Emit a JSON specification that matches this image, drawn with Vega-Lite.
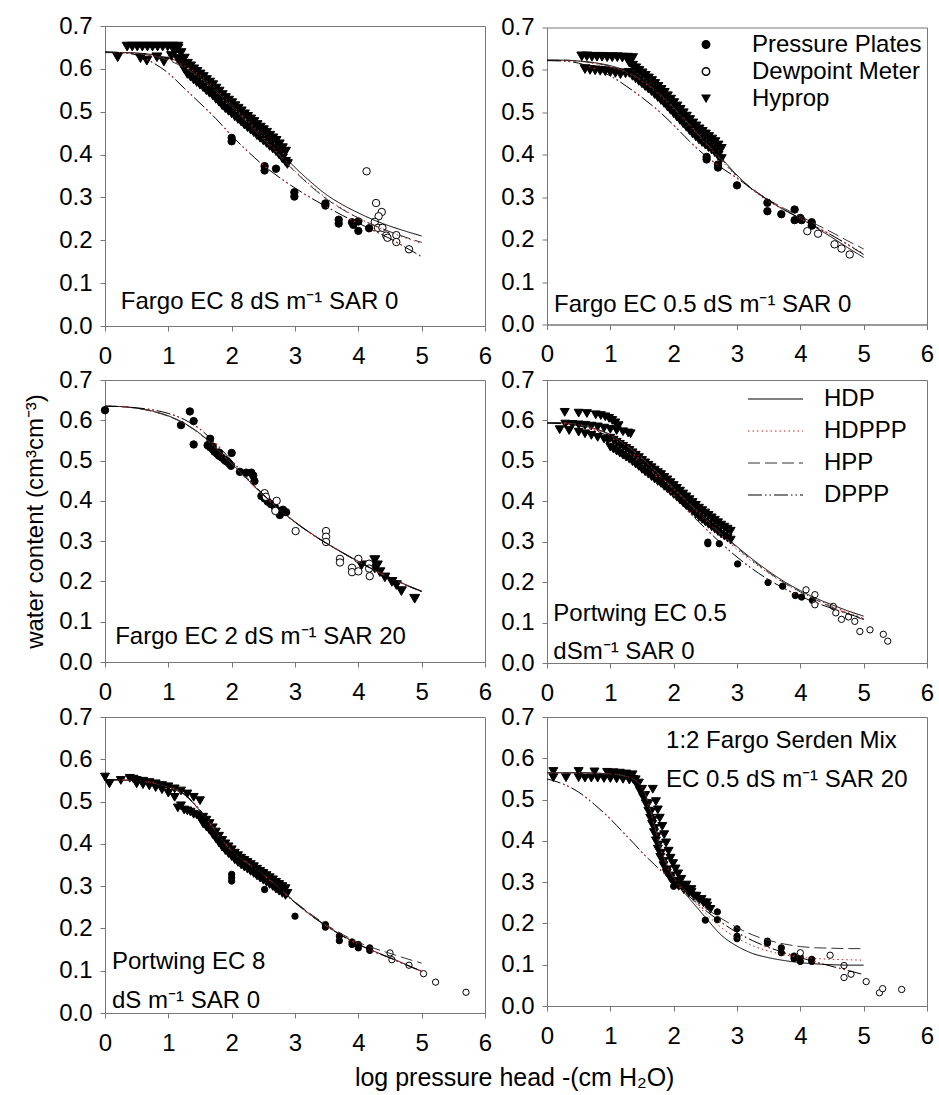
{
"$schema": "https://vega.github.io/schema/vega-lite/v6.json",
"padding": {"left": 23, "top": 13, "right": 5, "bottom": 5},
"background": "white",
"title": {"text": "log pressure head -(cm H₂O)", "orient": "bottom", "anchor": "middle", "fontSize": 25, "fontWeight": "normal", "color": "black", "offset": 10, "dx": 36},
"datasets": {
"notes": [
{"p":1,"t":"Fargo EC 8 dS m⁻¹ SAR 0"},
{"p":2,"t":"Fargo EC 0.5 dS m⁻¹ SAR 0"},
{"p":3,"t":"Fargo EC 2 dS m⁻¹ SAR 20"},
{"p":4,"t":"Portwing EC 0.5|dSm⁻¹ SAR 0"},
{"p":5,"t":"Portwing EC 8|dS m⁻¹ SAR 0"},
{"p":6,"t":"1:2 Fargo Serden Mix|EC 0.5 dS m⁻¹ SAR 20"}
],
"fit1": [
{"x":0,"HDP":0.638,"HDPPP":0.638,"HPP":0.638,"DPPP":0.64},
{"x":0.25,"HDP":0.638,"HDPPP":0.638,"HPP":0.638,"DPPP":0.638},
{"x":0.5,"HDP":0.637,"HDPPP":0.636,"HPP":0.636,"DPPP":0.632},
{"x":0.75,"HDP":0.633,"HDPPP":0.631,"HPP":0.63,"DPPP":0.615},
{"x":1,"HDP":0.625,"HDPPP":0.622,"HPP":0.62,"DPPP":0.59},
{"x":1.25,"HDP":0.612,"HDPPP":0.607,"HPP":0.603,"DPPP":0.555},
{"x":1.5,"HDP":0.59,"HDPPP":0.585,"HPP":0.58,"DPPP":0.52},
{"x":1.75,"HDP":0.558,"HDPPP":0.553,"HPP":0.548,"DPPP":0.484},
{"x":2,"HDP":0.522,"HDPPP":0.517,"HPP":0.512,"DPPP":0.444},
{"x":2.25,"HDP":0.484,"HDPPP":0.479,"HPP":0.474,"DPPP":0.408},
{"x":2.5,"HDP":0.446,"HDPPP":0.44,"HPP":0.436,"DPPP":0.375},
{"x":2.75,"HDP":0.408,"HDPPP":0.401,"HPP":0.398,"DPPP":0.347},
{"x":3,"HDP":0.37,"HDPPP":0.362,"HPP":0.36,"DPPP":0.322},
{"x":3.25,"HDP":0.336,"HDPPP":0.328,"HPP":0.326,"DPPP":0.299},
{"x":3.5,"HDP":0.306,"HDPPP":0.298,"HPP":0.296,"DPPP":0.278},
{"x":3.75,"HDP":0.283,"HDPPP":0.273,"HPP":0.272,"DPPP":0.258},
{"x":4,"HDP":0.264,"HDPPP":0.252,"HPP":0.252,"DPPP":0.24},
{"x":4.25,"HDP":0.247,"HDPPP":0.234,"HPP":0.235,"DPPP":0.222},
{"x":4.5,"HDP":0.233,"HDPPP":0.219,"HPP":0.22,"DPPP":0.204},
{"x":4.75,"HDP":0.221,"HDPPP":0.205,"HPP":0.207,"DPPP":0.183},
{"x":5,"HDP":0.21,"HDPPP":0.193,"HPP":0.195,"DPPP":0.162}
],
"fit2": [
{"x":0,"HDP":0.623,"HDPPP":0.623,"HPP":0.623,"DPPP":0.622},
{"x":0.25,"HDP":0.623,"HDPPP":0.622,"HPP":0.623,"DPPP":0.621},
{"x":0.5,"HDP":0.621,"HDPPP":0.62,"HPP":0.621,"DPPP":0.616},
{"x":0.75,"HDP":0.617,"HDPPP":0.615,"HPP":0.616,"DPPP":0.603},
{"x":1,"HDP":0.61,"HDPPP":0.607,"HPP":0.609,"DPPP":0.586},
{"x":1.25,"HDP":0.598,"HDPPP":0.594,"HPP":0.596,"DPPP":0.562},
{"x":1.5,"HDP":0.578,"HDPPP":0.573,"HPP":0.576,"DPPP":0.535},
{"x":1.75,"HDP":0.55,"HDPPP":0.544,"HPP":0.547,"DPPP":0.505},
{"x":2,"HDP":0.515,"HDPPP":0.508,"HPP":0.511,"DPPP":0.47},
{"x":2.25,"HDP":0.475,"HDPPP":0.468,"HPP":0.471,"DPPP":0.432},
{"x":2.5,"HDP":0.434,"HDPPP":0.427,"HPP":0.43,"DPPP":0.398},
{"x":2.75,"HDP":0.393,"HDPPP":0.387,"HPP":0.39,"DPPP":0.37},
{"x":3,"HDP":0.352,"HDPPP":0.348,"HPP":0.35,"DPPP":0.345},
{"x":3.25,"HDP":0.318,"HDPPP":0.316,"HPP":0.319,"DPPP":0.318},
{"x":3.5,"HDP":0.292,"HDPPP":0.29,"HPP":0.294,"DPPP":0.293},
{"x":3.75,"HDP":0.27,"HDPPP":0.269,"HPP":0.273,"DPPP":0.27},
{"x":4,"HDP":0.25,"HDPPP":0.25,"HPP":0.255,"DPPP":0.25},
{"x":4.25,"HDP":0.228,"HDPPP":0.23,"HPP":0.236,"DPPP":0.23},
{"x":4.5,"HDP":0.205,"HDPPP":0.21,"HPP":0.217,"DPPP":0.21},
{"x":4.75,"HDP":0.181,"HDPPP":0.189,"HPP":0.197,"DPPP":0.188},
{"x":5,"HDP":0.158,"HDPPP":0.167,"HPP":0.178,"DPPP":0.165}
],
"fit3": [
{"x":0,"HDP":0.635,"HDPPP":0.635,"HPP":0.635,"DPPP":0.635},
{"x":0.25,"HDP":0.634,"HDPPP":0.634,"HPP":0.634,"DPPP":0.634},
{"x":0.5,"HDP":0.63,"HDPPP":0.63,"HPP":0.63,"DPPP":0.631},
{"x":0.75,"HDP":0.623,"HDPPP":0.622,"HPP":0.622,"DPPP":0.626},
{"x":1,"HDP":0.611,"HDPPP":0.61,"HPP":0.61,"DPPP":0.617},
{"x":1.25,"HDP":0.593,"HDPPP":0.592,"HPP":0.592,"DPPP":0.602},
{"x":1.5,"HDP":0.567,"HDPPP":0.566,"HPP":0.566,"DPPP":0.578},
{"x":1.75,"HDP":0.532,"HDPPP":0.531,"HPP":0.531,"DPPP":0.542},
{"x":2,"HDP":0.493,"HDPPP":0.492,"HPP":0.492,"DPPP":0.5},
{"x":2.25,"HDP":0.453,"HDPPP":0.452,"HPP":0.452,"DPPP":0.456},
{"x":2.5,"HDP":0.415,"HDPPP":0.414,"HPP":0.414,"DPPP":0.416},
{"x":2.75,"HDP":0.38,"HDPPP":0.379,"HPP":0.379,"DPPP":0.38},
{"x":3,"HDP":0.348,"HDPPP":0.347,"HPP":0.347,"DPPP":0.347},
{"x":3.25,"HDP":0.32,"HDPPP":0.319,"HPP":0.319,"DPPP":0.319},
{"x":3.5,"HDP":0.295,"HDPPP":0.294,"HPP":0.294,"DPPP":0.294},
{"x":3.75,"HDP":0.272,"HDPPP":0.271,"HPP":0.271,"DPPP":0.271},
{"x":4,"HDP":0.25,"HDPPP":0.249,"HPP":0.249,"DPPP":0.249},
{"x":4.25,"HDP":0.229,"HDPPP":0.228,"HPP":0.228,"DPPP":0.228},
{"x":4.5,"HDP":0.21,"HDPPP":0.209,"HPP":0.209,"DPPP":0.209},
{"x":4.75,"HDP":0.192,"HDPPP":0.191,"HPP":0.191,"DPPP":0.191},
{"x":5,"HDP":0.176,"HDPPP":0.174,"HPP":0.175,"DPPP":0.175}
],
"fit4": [
{"x":0,"HDP":0.595,"HDPPP":0.595,"HPP":0.595,"DPPP":0.593},
{"x":0.25,"HDP":0.594,"HDPPP":0.594,"HPP":0.594,"DPPP":0.592},
{"x":0.5,"HDP":0.59,"HDPPP":0.589,"HPP":0.59,"DPPP":0.587},
{"x":0.75,"HDP":0.58,"HDPPP":0.579,"HPP":0.58,"DPPP":0.576},
{"x":1,"HDP":0.565,"HDPPP":0.563,"HPP":0.564,"DPPP":0.558},
{"x":1.25,"HDP":0.54,"HDPPP":0.538,"HPP":0.539,"DPPP":0.532},
{"x":1.5,"HDP":0.508,"HDPPP":0.505,"HPP":0.507,"DPPP":0.498},
{"x":1.75,"HDP":0.472,"HDPPP":0.468,"HPP":0.47,"DPPP":0.458},
{"x":2,"HDP":0.435,"HDPPP":0.43,"HPP":0.433,"DPPP":0.415},
{"x":2.25,"HDP":0.397,"HDPPP":0.391,"HPP":0.394,"DPPP":0.372},
{"x":2.5,"HDP":0.36,"HDPPP":0.353,"HPP":0.357,"DPPP":0.333},
{"x":2.75,"HDP":0.323,"HDPPP":0.316,"HPP":0.32,"DPPP":0.296},
{"x":3,"HDP":0.288,"HDPPP":0.281,"HPP":0.285,"DPPP":0.262},
{"x":3.25,"HDP":0.256,"HDPPP":0.25,"HPP":0.253,"DPPP":0.232},
{"x":3.5,"HDP":0.227,"HDPPP":0.222,"HPP":0.224,"DPPP":0.206},
{"x":3.75,"HDP":0.201,"HDPPP":0.197,"HPP":0.198,"DPPP":0.184},
{"x":4,"HDP":0.179,"HDPPP":0.176,"HPP":0.176,"DPPP":0.165},
{"x":4.25,"HDP":0.16,"HDPPP":0.157,"HPP":0.156,"DPPP":0.149},
{"x":4.5,"HDP":0.144,"HDPPP":0.141,"HPP":0.138,"DPPP":0.135},
{"x":4.75,"HDP":0.129,"HDPPP":0.125,"HPP":0.122,"DPPP":0.122},
{"x":5,"HDP":0.116,"HDPPP":0.111,"HPP":0.107,"DPPP":0.109}
],
"fit5": [
{"x":0,"HDP":0.552,"HDPPP":0.552,"HPP":0.552,"DPPP":0.552},
{"x":0.25,"HDP":0.551,"HDPPP":0.551,"HPP":0.551,"DPPP":0.551},
{"x":0.5,"HDP":0.549,"HDPPP":0.549,"HPP":0.549,"DPPP":0.549},
{"x":0.75,"HDP":0.544,"HDPPP":0.544,"HPP":0.544,"DPPP":0.545},
{"x":1,"HDP":0.535,"HDPPP":0.535,"HPP":0.534,"DPPP":0.536},
{"x":1.25,"HDP":0.517,"HDPPP":0.516,"HPP":0.516,"DPPP":0.518},
{"x":1.5,"HDP":0.478,"HDPPP":0.478,"HPP":0.479,"DPPP":0.48},
{"x":1.75,"HDP":0.428,"HDPPP":0.429,"HPP":0.43,"DPPP":0.43},
{"x":2,"HDP":0.383,"HDPPP":0.383,"HPP":0.384,"DPPP":0.384},
{"x":2.25,"HDP":0.355,"HDPPP":0.354,"HPP":0.355,"DPPP":0.355},
{"x":2.5,"HDP":0.328,"HDPPP":0.327,"HPP":0.328,"DPPP":0.327},
{"x":2.75,"HDP":0.295,"HDPPP":0.294,"HPP":0.296,"DPPP":0.294},
{"x":3,"HDP":0.262,"HDPPP":0.261,"HPP":0.263,"DPPP":0.261},
{"x":3.25,"HDP":0.232,"HDPPP":0.231,"HPP":0.234,"DPPP":0.231},
{"x":3.5,"HDP":0.206,"HDPPP":0.205,"HPP":0.208,"DPPP":0.205},
{"x":3.75,"HDP":0.183,"HDPPP":0.182,"HPP":0.186,"DPPP":0.182},
{"x":4,"HDP":0.163,"HDPPP":0.162,"HPP":0.167,"DPPP":0.162},
{"x":4.25,"HDP":0.146,"HDPPP":0.145,"HPP":0.153,"DPPP":0.145},
{"x":4.5,"HDP":0.131,"HDPPP":0.13,"HPP":0.141,"DPPP":0.13},
{"x":4.75,"HDP":0.115,"HDPPP":0.114,"HPP":0.129,"DPPP":0.114},
{"x":5,"HDP":0.099,"HDPPP":0.098,"HPP":0.118,"DPPP":0.098}
],
"fit6": [
{"x":0,"HDP":0.565,"HDPPP":0.565,"HPP":0.565,"DPPP":0.55},
{"x":0.25,"HDP":0.565,"HDPPP":0.565,"HPP":0.565,"DPPP":0.538},
{"x":0.5,"HDP":0.565,"HDPPP":0.565,"HPP":0.565,"DPPP":0.518},
{"x":0.75,"HDP":0.564,"HDPPP":0.564,"HPP":0.564,"DPPP":0.488},
{"x":1,"HDP":0.562,"HDPPP":0.562,"HPP":0.562,"DPPP":0.453},
{"x":1.2,"HDP":0.558,"HDPPP":0.558,"HPP":0.558,"DPPP":0.421},
{"x":1.4,"HDP":0.545,"HDPPP":0.546,"HPP":0.546,"DPPP":0.389},
{"x":1.5,"HDP":0.528,"HDPPP":0.53,"HPP":0.53,"DPPP":0.372},
{"x":1.6,"HDP":0.49,"HDPPP":0.492,"HPP":0.493,"DPPP":0.357},
{"x":1.7,"HDP":0.43,"HDPPP":0.433,"HPP":0.435,"DPPP":0.342},
{"x":1.8,"HDP":0.375,"HDPPP":0.378,"HPP":0.38,"DPPP":0.328},
{"x":1.9,"HDP":0.335,"HDPPP":0.338,"HPP":0.34,"DPPP":0.315},
{"x":2,"HDP":0.307,"HDPPP":0.31,"HPP":0.312,"DPPP":0.302},
{"x":2.25,"HDP":0.26,"HDPPP":0.265,"HPP":0.27,"DPPP":0.265},
{"x":2.5,"HDP":0.215,"HDPPP":0.225,"HPP":0.238,"DPPP":0.232},
{"x":2.75,"HDP":0.172,"HDPPP":0.19,"HPP":0.212,"DPPP":0.203},
{"x":3,"HDP":0.145,"HDPPP":0.165,"HPP":0.19,"DPPP":0.178},
{"x":3.25,"HDP":0.127,"HDPPP":0.146,"HPP":0.172,"DPPP":0.158},
{"x":3.5,"HDP":0.117,"HDPPP":0.133,"HPP":0.159,"DPPP":0.142},
{"x":3.75,"HDP":0.11,"HDPPP":0.124,"HPP":0.15,"DPPP":0.129},
{"x":4,"HDP":0.105,"HDPPP":0.118,"HPP":0.144,"DPPP":0.117},
{"x":4.25,"HDP":0.102,"HDPPP":0.115,"HPP":0.141,"DPPP":0.106},
{"x":4.5,"HDP":0.1,"HDPPP":0.113,"HPP":0.14,"DPPP":0.096},
{"x":4.75,"HDP":0.099,"HDPPP":0.112,"HPP":0.139,"DPPP":0.086},
{"x":5,"HDP":0.099,"HDPPP":0.111,"HPP":0.139,"DPPP":0.076}
],
"pts1": [
{"m":"HY","x":0.35,"y":0.652},{"m":"HY","x":0.43,"y":0.652},{"m":"HY","x":0.51,"y":0.652},{"m":"HY","x":0.59,"y":0.652},{"m":"HY","x":0.67,"y":0.652},{"m":"HY","x":0.75,"y":0.652},{"m":"HY","x":0.83,"y":0.652},{"m":"HY","x":0.91,"y":0.652},{"m":"HY","x":0.99,"y":0.652},{"m":"HY","x":1.07,"y":0.652},{"m":"HY","x":1.15,"y":0.652},
{"m":"HY","x":0.2,"y":0.627},{"m":"HY","x":0.56,"y":0.625},{"m":"HY","x":0.66,"y":0.619},{"m":"HY","x":0.82,"y":0.627},{"m":"HY","x":0.93,"y":0.617},{"m":"HY","x":1.05,"y":0.63},{"m":"HY","x":1.1,"y":0.64},
{"m":"HY","x":1.15,"y":0.647},{"m":"HY","x":1.2,"y":0.637},{"m":"HY","x":1.25,"y":0.624},{"m":"HY","x":1.3,"y":0.612},{"m":"HY","x":1.35,"y":0.606},{"m":"HY","x":1.4,"y":0.599},{"m":"HY","x":1.45,"y":0.593},{"m":"HY","x":1.5,"y":0.587},{"m":"HY","x":1.55,"y":0.581},{"m":"HY","x":1.6,"y":0.574},{"m":"HY","x":1.65,"y":0.568},{"m":"HY","x":1.7,"y":0.562},{"m":"HY","x":1.75,"y":0.554},{"m":"HY","x":1.8,"y":0.547},{"m":"HY","x":1.85,"y":0.539},{"m":"HY","x":1.9,"y":0.532},{"m":"HY","x":1.95,"y":0.526},{"m":"HY","x":2.0,"y":0.52},{"m":"HY","x":2.05,"y":0.513},{"m":"HY","x":2.1,"y":0.507},{"m":"HY","x":2.15,"y":0.501},{"m":"HY","x":2.2,"y":0.494},{"m":"HY","x":2.25,"y":0.488},{"m":"HY","x":2.3,"y":0.482},{"m":"HY","x":2.35,"y":0.476},{"m":"HY","x":2.4,"y":0.469},{"m":"HY","x":2.45,"y":0.463},{"m":"HY","x":2.5,"y":0.457},{"m":"HY","x":2.55,"y":0.451},{"m":"HY","x":2.6,"y":0.444},{"m":"HY","x":2.65,"y":0.438},{"m":"HY","x":2.7,"y":0.432},{"m":"HY","x":2.75,"y":0.424},{"m":"HY","x":2.8,"y":0.415},{"m":"HY","x":2.85,"y":0.407},
{"m":"HY","x":1.15,"y":0.623},{"m":"HY","x":1.2,"y":0.613},{"m":"HY","x":1.25,"y":0.6},{"m":"HY","x":1.3,"y":0.588},{"m":"HY","x":1.35,"y":0.582},{"m":"HY","x":1.4,"y":0.575},{"m":"HY","x":1.45,"y":0.569},{"m":"HY","x":1.5,"y":0.563},{"m":"HY","x":1.55,"y":0.557},{"m":"HY","x":1.6,"y":0.55},{"m":"HY","x":1.65,"y":0.544},{"m":"HY","x":1.7,"y":0.538},{"m":"HY","x":1.75,"y":0.53},{"m":"HY","x":1.8,"y":0.523},{"m":"HY","x":1.85,"y":0.515},{"m":"HY","x":1.9,"y":0.508},{"m":"HY","x":1.95,"y":0.502},{"m":"HY","x":2.0,"y":0.496},{"m":"HY","x":2.05,"y":0.489},{"m":"HY","x":2.1,"y":0.483},{"m":"HY","x":2.15,"y":0.477},{"m":"HY","x":2.2,"y":0.47},{"m":"HY","x":2.25,"y":0.464},{"m":"HY","x":2.3,"y":0.458},{"m":"HY","x":2.35,"y":0.452},{"m":"HY","x":2.4,"y":0.445},{"m":"HY","x":2.45,"y":0.439},{"m":"HY","x":2.5,"y":0.433},{"m":"HY","x":2.55,"y":0.427},{"m":"HY","x":2.6,"y":0.42},{"m":"HY","x":2.65,"y":0.414},{"m":"HY","x":2.7,"y":0.408},{"m":"HY","x":2.75,"y":0.4},{"m":"HY","x":2.8,"y":0.391},{"m":"HY","x":2.85,"y":0.383},{"m":"HY","x":2.88,"y":0.378},
{"m":"PP","x":2.0,"y":0.439},{"m":"PP","x":2.0,"y":0.431},{"m":"PP","x":2.52,"y":0.373},{"m":"PP","x":2.52,"y":0.363},{"m":"PP","x":2.7,"y":0.367},{"m":"PP","x":2.99,"y":0.312},{"m":"PP","x":2.99,"y":0.302},{"m":"PP","x":3.48,"y":0.286},{"m":"PP","x":3.48,"y":0.281},{"m":"PP","x":3.69,"y":0.248},{"m":"PP","x":3.69,"y":0.239},{"m":"PP","x":3.9,"y":0.242},{"m":"PP","x":3.92,"y":0.236},{"m":"PP","x":4.0,"y":0.244},{"m":"PP","x":4.0,"y":0.222},{"m":"PP","x":4.17,"y":0.228},
{"m":"DM","x":4.13,"y":0.361},{"m":"DM","x":4.28,"y":0.287},{"m":"DM","x":4.37,"y":0.266},{"m":"DM","x":4.32,"y":0.256},{"m":"DM","x":4.26,"y":0.243},{"m":"DM","x":4.31,"y":0.229},{"m":"DM","x":4.38,"y":0.229},{"m":"DM","x":4.44,"y":0.211},{"m":"DM","x":4.46,"y":0.206},{"m":"DM","x":4.6,"y":0.212},{"m":"DM","x":4.6,"y":0.196},{"m":"DM","x":4.8,"y":0.179}
],
"pts2": [
{"m":"HY","x":0.55,"y":0.632},{"m":"HY","x":0.63,"y":0.632},{"m":"HY","x":0.71,"y":0.631},{"m":"HY","x":0.79,"y":0.631},{"m":"HY","x":0.87,"y":0.631},{"m":"HY","x":0.95,"y":0.63},{"m":"HY","x":1.03,"y":0.63},{"m":"HY","x":1.11,"y":0.63},{"m":"HY","x":1.19,"y":0.629},{"m":"HY","x":1.27,"y":0.629},{"m":"HY","x":1.35,"y":0.628},
{"m":"HY","x":0.6,"y":0.602},{"m":"HY","x":0.68,"y":0.6},{"m":"HY","x":0.76,"y":0.599},{"m":"HY","x":0.84,"y":0.598},{"m":"HY","x":0.92,"y":0.597},{"m":"HY","x":1.0,"y":0.595},{"m":"HY","x":1.08,"y":0.593},{"m":"HY","x":1.16,"y":0.59},{"m":"HY","x":1.24,"y":0.592},
{"m":"HY","x":1.3,"y":0.617},{"m":"HY","x":1.35,"y":0.61},{"m":"HY","x":1.4,"y":0.604},{"m":"HY","x":1.45,"y":0.598},{"m":"HY","x":1.5,"y":0.592},{"m":"HY","x":1.55,"y":0.586},{"m":"HY","x":1.6,"y":0.58},{"m":"HY","x":1.65,"y":0.574},{"m":"HY","x":1.7,"y":0.567},{"m":"HY","x":1.75,"y":0.56},{"m":"HY","x":1.8,"y":0.553},{"m":"HY","x":1.85,"y":0.546},{"m":"HY","x":1.9,"y":0.538},{"m":"HY","x":1.95,"y":0.53},{"m":"HY","x":2.0,"y":0.522},{"m":"HY","x":2.05,"y":0.514},{"m":"HY","x":2.1,"y":0.506},{"m":"HY","x":2.15,"y":0.498},{"m":"HY","x":2.2,"y":0.49},{"m":"HY","x":2.25,"y":0.482},{"m":"HY","x":2.3,"y":0.474},{"m":"HY","x":2.35,"y":0.467},{"m":"HY","x":2.4,"y":0.46},{"m":"HY","x":2.45,"y":0.454},{"m":"HY","x":2.5,"y":0.448},{"m":"HY","x":2.55,"y":0.442},{"m":"HY","x":2.6,"y":0.436},{"m":"HY","x":2.65,"y":0.43},{"m":"HY","x":2.7,"y":0.422},{"m":"HY","x":2.75,"y":0.414},
{"m":"HY","x":1.3,"y":0.593},{"m":"HY","x":1.35,"y":0.586},{"m":"HY","x":1.4,"y":0.58},{"m":"HY","x":1.45,"y":0.574},{"m":"HY","x":1.5,"y":0.568},{"m":"HY","x":1.55,"y":0.562},{"m":"HY","x":1.6,"y":0.556},{"m":"HY","x":1.65,"y":0.55},{"m":"HY","x":1.7,"y":0.543},{"m":"HY","x":1.75,"y":0.536},{"m":"HY","x":1.8,"y":0.529},{"m":"HY","x":1.85,"y":0.522},{"m":"HY","x":1.9,"y":0.514},{"m":"HY","x":1.95,"y":0.506},{"m":"HY","x":2.0,"y":0.498},{"m":"HY","x":2.05,"y":0.49},{"m":"HY","x":2.1,"y":0.482},{"m":"HY","x":2.15,"y":0.474},{"m":"HY","x":2.2,"y":0.466},{"m":"HY","x":2.25,"y":0.458},{"m":"HY","x":2.3,"y":0.45},{"m":"HY","x":2.35,"y":0.443},{"m":"HY","x":2.4,"y":0.436},{"m":"HY","x":2.45,"y":0.43},{"m":"HY","x":2.5,"y":0.424},{"m":"HY","x":2.55,"y":0.418},{"m":"HY","x":2.6,"y":0.412},{"m":"HY","x":2.65,"y":0.406},{"m":"HY","x":2.7,"y":0.398},{"m":"HY","x":2.75,"y":0.39},
{"m":"PP","x":2.52,"y":0.395},{"m":"PP","x":2.52,"y":0.389},{"m":"PP","x":2.7,"y":0.377},{"m":"PP","x":2.7,"y":0.37},{"m":"PP","x":3.0,"y":0.328},{"m":"PP","x":3.48,"y":0.287},{"m":"PP","x":3.48,"y":0.267},{"m":"PP","x":3.7,"y":0.26},{"m":"PP","x":3.91,"y":0.271},{"m":"PP","x":3.91,"y":0.246},{"m":"PP","x":4.0,"y":0.251},{"m":"PP","x":4.02,"y":0.246},{"m":"PP","x":4.18,"y":0.241},{"m":"PP","x":4.18,"y":0.233},
{"m":"DM","x":4.11,"y":0.22},{"m":"DM","x":4.28,"y":0.214},{"m":"DM","x":4.54,"y":0.189},{"m":"DM","x":4.65,"y":0.179},{"m":"DM","x":4.78,"y":0.165}
],
"pts3": [
{"m":"HY","x":4.05,"y":0.24},{"m":"HY","x":4.26,"y":0.253},{"m":"HY","x":4.26,"y":0.232},{"m":"HY","x":4.3,"y":0.24},{"m":"HY","x":4.34,"y":0.223},{"m":"HY","x":4.42,"y":0.21},{"m":"HY","x":4.53,"y":0.199},{"m":"HY","x":4.6,"y":0.191},{"m":"HY","x":4.68,"y":0.176},{"m":"HY","x":4.89,"y":0.157},
{"m":"PP","x":0,"y":0.625},{"m":"PP","x":1.2,"y":0.588},{"m":"PP","x":1.34,"y":0.622},{"m":"PP","x":1.4,"y":0.598},{"m":"PP","x":1.4,"y":0.54},{"m":"PP","x":1.66,"y":0.554},{"m":"PP","x":1.62,"y":0.538},{"m":"PP","x":1.66,"y":0.533},{"m":"PP","x":1.7,"y":0.528},{"m":"PP","x":1.73,"y":0.522},{"m":"PP","x":1.77,"y":0.517},{"m":"PP","x":1.8,"y":0.512},{"m":"PP","x":1.84,"y":0.508},{"m":"PP","x":1.88,"y":0.503},{"m":"PP","x":1.92,"y":0.498},{"m":"PP","x":1.96,"y":0.493},{"m":"PP","x":1.99,"y":0.487},{"m":"PP","x":1.7,"y":0.535},{"m":"PP","x":1.8,"y":0.52},{"m":"PP","x":1.9,"y":0.5},{"m":"PP","x":2.0,"y":0.519},{"m":"PP","x":2.13,"y":0.472},{"m":"PP","x":2.23,"y":0.47},{"m":"PP","x":2.31,"y":0.47},{"m":"PP","x":2.34,"y":0.463},{"m":"PP","x":2.36,"y":0.449},{"m":"PP","x":2.47,"y":0.412},{"m":"PP","x":2.52,"y":0.406},{"m":"PP","x":2.57,"y":0.398},{"m":"PP","x":2.62,"y":0.392},{"m":"PP","x":2.68,"y":0.385},{"m":"PP","x":2.76,"y":0.365},{"m":"PP","x":2.81,"y":0.378},{"m":"PP","x":2.86,"y":0.372},{"m":"PP","x":2.75,"y":0.375},
{"m":"DM","x":2.52,"y":0.419},{"m":"DM","x":2.54,"y":0.41},{"m":"DM","x":2.71,"y":0.4},{"m":"DM","x":2.69,"y":0.375},{"m":"DM","x":3.01,"y":0.325},{"m":"DM","x":3.49,"y":0.325},{"m":"DM","x":3.49,"y":0.311},{"m":"DM","x":3.49,"y":0.298},{"m":"DM","x":3.71,"y":0.256},{"m":"DM","x":3.71,"y":0.247},{"m":"DM","x":3.9,"y":0.234},{"m":"DM","x":3.9,"y":0.223},{"m":"DM","x":4.0,"y":0.256},{"m":"DM","x":4.0,"y":0.225},{"m":"DM","x":4.17,"y":0.244},{"m":"DM","x":4.18,"y":0.213},{"m":"DM","x":4.17,"y":0.232}
],
"pts4": [
{"m":"HY","x":0.28,"y":0.62},{"m":"HY","x":0.5,"y":0.618},{"m":"HY","x":0.63,"y":0.617},{"m":"HY","x":0.77,"y":0.614},{"m":"HY","x":0.85,"y":0.612},{"m":"HY","x":0.92,"y":0.609},{"m":"HY","x":0.98,"y":0.605},{"m":"HY","x":1.03,"y":0.6},{"m":"HY","x":1.08,"y":0.594},{"m":"HY","x":1.13,"y":0.587},
{"m":"HY","x":0.29,"y":0.591},{"m":"HY","x":0.4,"y":0.59},{"m":"HY","x":0.5,"y":0.589},{"m":"HY","x":0.6,"y":0.588},{"m":"HY","x":0.7,"y":0.586},{"m":"HY","x":0.8,"y":0.584},{"m":"HY","x":0.9,"y":0.581},{"m":"HY","x":1.0,"y":0.578},{"m":"HY","x":1.1,"y":0.575},{"m":"HY","x":1.2,"y":0.572},{"m":"HY","x":1.28,"y":0.569},{"m":"HY","x":1.32,"y":0.567},
{"m":"HY","x":0.2,"y":0.577},{"m":"HY","x":0.35,"y":0.575},{"m":"HY","x":0.5,"y":0.571},{"m":"HY","x":0.6,"y":0.567},{"m":"HY","x":0.7,"y":0.563},{"m":"HY","x":0.8,"y":0.558},{"m":"HY","x":0.9,"y":0.554},{"m":"HY","x":0.96,"y":0.55},
{"m":"HY","x":1.0,"y":0.556},{"m":"HY","x":1.05,"y":0.551},{"m":"HY","x":1.1,"y":0.546},{"m":"HY","x":1.15,"y":0.541},{"m":"HY","x":1.2,"y":0.536},{"m":"HY","x":1.25,"y":0.531},{"m":"HY","x":1.3,"y":0.526},{"m":"HY","x":1.35,"y":0.52},{"m":"HY","x":1.4,"y":0.514},{"m":"HY","x":1.45,"y":0.508},{"m":"HY","x":1.5,"y":0.501},{"m":"HY","x":1.55,"y":0.495},{"m":"HY","x":1.6,"y":0.489},{"m":"HY","x":1.65,"y":0.483},{"m":"HY","x":1.7,"y":0.477},{"m":"HY","x":1.75,"y":0.471},{"m":"HY","x":1.8,"y":0.466},{"m":"HY","x":1.85,"y":0.459},{"m":"HY","x":1.9,"y":0.453},{"m":"HY","x":1.95,"y":0.446},{"m":"HY","x":2.0,"y":0.439},{"m":"HY","x":2.05,"y":0.432},{"m":"HY","x":2.1,"y":0.425},{"m":"HY","x":2.15,"y":0.418},{"m":"HY","x":2.2,"y":0.411},{"m":"HY","x":2.25,"y":0.404},{"m":"HY","x":2.3,"y":0.397},{"m":"HY","x":2.35,"y":0.39},{"m":"HY","x":2.4,"y":0.383},{"m":"HY","x":2.45,"y":0.377},{"m":"HY","x":2.5,"y":0.371},{"m":"HY","x":2.55,"y":0.365},{"m":"HY","x":2.6,"y":0.359},{"m":"HY","x":2.65,"y":0.353},{"m":"HY","x":2.7,"y":0.347},{"m":"HY","x":2.75,"y":0.341},{"m":"HY","x":2.8,"y":0.336},{"m":"HY","x":2.85,"y":0.331},{"m":"HY","x":2.9,"y":0.326},
{"m":"HY","x":1.0,"y":0.534},{"m":"HY","x":1.05,"y":0.529},{"m":"HY","x":1.1,"y":0.524},{"m":"HY","x":1.15,"y":0.519},{"m":"HY","x":1.2,"y":0.514},{"m":"HY","x":1.25,"y":0.509},{"m":"HY","x":1.3,"y":0.504},{"m":"HY","x":1.35,"y":0.498},{"m":"HY","x":1.4,"y":0.492},{"m":"HY","x":1.45,"y":0.486},{"m":"HY","x":1.5,"y":0.479},{"m":"HY","x":1.55,"y":0.473},{"m":"HY","x":1.6,"y":0.467},{"m":"HY","x":1.65,"y":0.461},{"m":"HY","x":1.7,"y":0.455},{"m":"HY","x":1.75,"y":0.449},{"m":"HY","x":1.8,"y":0.444},{"m":"HY","x":1.85,"y":0.437},{"m":"HY","x":1.9,"y":0.431},{"m":"HY","x":1.95,"y":0.424},{"m":"HY","x":2.0,"y":0.417},{"m":"HY","x":2.05,"y":0.41},{"m":"HY","x":2.1,"y":0.403},{"m":"HY","x":2.15,"y":0.396},{"m":"HY","x":2.2,"y":0.389},{"m":"HY","x":2.25,"y":0.382},{"m":"HY","x":2.3,"y":0.375},{"m":"HY","x":2.35,"y":0.368},{"m":"HY","x":2.4,"y":0.361},{"m":"HY","x":2.45,"y":0.355},{"m":"HY","x":2.5,"y":0.349},{"m":"HY","x":2.55,"y":0.343},{"m":"HY","x":2.6,"y":0.337},{"m":"HY","x":2.65,"y":0.331},{"m":"HY","x":2.7,"y":0.325},{"m":"HY","x":2.75,"y":0.319},{"m":"HY","x":2.8,"y":0.314},{"m":"HY","x":2.85,"y":0.309},{"m":"HY","x":2.9,"y":0.304},
{"m":"PP","x":2.54,"y":0.299},{"m":"PP","x":2.54,"y":0.295},{"m":"PP","x":2.72,"y":0.295},{"m":"PP","x":3.01,"y":0.245},{"m":"PP","x":3.49,"y":0.199},{"m":"PP","x":3.72,"y":0.19},{"m":"PP","x":3.92,"y":0.167},{"m":"PP","x":4.02,"y":0.163},{"m":"PP","x":4.19,"y":0.155},
{"m":"DM","x":4.09,"y":0.181},{"m":"DM","x":4.23,"y":0.169},{"m":"DM","x":4.23,"y":0.144},{"m":"DM","x":4.52,"y":0.14},{"m":"DM","x":4.56,"y":0.124},{"m":"DM","x":4.65,"y":0.108},{"m":"DM","x":4.76,"y":0.114},{"m":"DM","x":4.86,"y":0.103},{"m":"DM","x":4.94,"y":0.078},{"m":"DM","x":5.1,"y":0.082},{"m":"DM","x":5.31,"y":0.071},{"m":"DM","x":5.38,"y":0.054}
],
"pts5": [
{"m":"HY","x":0,"y":0.558},{"m":"HY","x":0.07,"y":0.542},{"m":"HY","x":0.25,"y":0.55},{"m":"HY","x":0.39,"y":0.555},{"m":"HY","x":0.45,"y":0.553},
{"m":"HY","x":0.5,"y":0.55},{"m":"HY","x":0.6,"y":0.548},{"m":"HY","x":0.7,"y":0.545},{"m":"HY","x":0.8,"y":0.542},{"m":"HY","x":0.9,"y":0.538},{"m":"HY","x":1.0,"y":0.535},{"m":"HY","x":1.1,"y":0.53},{"m":"HY","x":1.2,"y":0.525},{"m":"HY","x":1.3,"y":0.518},{"m":"HY","x":1.4,"y":0.51},{"m":"HY","x":1.5,"y":0.502},
{"m":"HY","x":0.5,"y":0.542},{"m":"HY","x":0.6,"y":0.54},{"m":"HY","x":0.7,"y":0.537},{"m":"HY","x":0.8,"y":0.533},{"m":"HY","x":0.9,"y":0.528},{"m":"HY","x":1.0,"y":0.52},{"m":"HY","x":1.1,"y":0.51},{"m":"HY","x":1.15,"y":0.485},{"m":"HY","x":1.2,"y":0.49},{"m":"HY","x":1.25,"y":0.48},{"m":"HY","x":1.3,"y":0.478},{"m":"HY","x":1.35,"y":0.475},{"m":"HY","x":1.4,"y":0.47},{"m":"HY","x":1.45,"y":0.468},{"m":"HY","x":1.5,"y":0.46},
{"m":"HY","x":1.55,"y":0.463},{"m":"HY","x":1.6,"y":0.456},{"m":"HY","x":1.65,"y":0.448},{"m":"HY","x":1.7,"y":0.438},{"m":"HY","x":1.75,"y":0.428},{"m":"HY","x":1.8,"y":0.418},{"m":"HY","x":1.85,"y":0.408},{"m":"HY","x":1.9,"y":0.4},{"m":"HY","x":1.95,"y":0.393},{"m":"HY","x":2.0,"y":0.386},{"m":"HY","x":2.05,"y":0.378},{"m":"HY","x":2.1,"y":0.372},{"m":"HY","x":2.15,"y":0.366},{"m":"HY","x":2.2,"y":0.361},{"m":"HY","x":2.25,"y":0.356},{"m":"HY","x":2.3,"y":0.351},{"m":"HY","x":2.35,"y":0.346},{"m":"HY","x":2.4,"y":0.34},{"m":"HY","x":2.45,"y":0.335},{"m":"HY","x":2.5,"y":0.33},{"m":"HY","x":2.55,"y":0.325},{"m":"HY","x":2.6,"y":0.32},{"m":"HY","x":2.65,"y":0.315},{"m":"HY","x":2.7,"y":0.309},{"m":"HY","x":2.75,"y":0.304},{"m":"HY","x":2.8,"y":0.299},{"m":"HY","x":2.85,"y":0.294},
{"m":"HY","x":1.55,"y":0.447},{"m":"HY","x":1.6,"y":0.44},{"m":"HY","x":1.65,"y":0.432},{"m":"HY","x":1.7,"y":0.422},{"m":"HY","x":1.75,"y":0.412},{"m":"HY","x":1.8,"y":0.402},{"m":"HY","x":1.85,"y":0.392},{"m":"HY","x":1.9,"y":0.384},{"m":"HY","x":1.95,"y":0.377},{"m":"HY","x":2.0,"y":0.37},{"m":"HY","x":2.05,"y":0.362},{"m":"HY","x":2.1,"y":0.356},{"m":"HY","x":2.15,"y":0.35},{"m":"HY","x":2.2,"y":0.345},{"m":"HY","x":2.25,"y":0.34},{"m":"HY","x":2.3,"y":0.335},{"m":"HY","x":2.35,"y":0.33},{"m":"HY","x":2.4,"y":0.324},{"m":"HY","x":2.45,"y":0.319},{"m":"HY","x":2.5,"y":0.314},{"m":"HY","x":2.55,"y":0.309},{"m":"HY","x":2.6,"y":0.304},{"m":"HY","x":2.65,"y":0.299},{"m":"HY","x":2.7,"y":0.293},{"m":"HY","x":2.75,"y":0.288},{"m":"HY","x":2.8,"y":0.283},{"m":"HY","x":2.85,"y":0.278},{"m":"HY","x":2.88,"y":0.283},
{"m":"PP","x":2.0,"y":0.328},{"m":"PP","x":2.0,"y":0.32},{"m":"PP","x":2.0,"y":0.312},{"m":"PP","x":2.52,"y":0.292},{"m":"PP","x":3.0,"y":0.229},{"m":"PP","x":3.48,"y":0.209},{"m":"PP","x":3.48,"y":0.203},{"m":"PP","x":3.7,"y":0.182},{"m":"PP","x":3.7,"y":0.171},{"m":"PP","x":3.9,"y":0.168},{"m":"PP","x":3.9,"y":0.162},{"m":"PP","x":4.0,"y":0.162},{"m":"PP","x":4.0,"y":0.154},{"m":"PP","x":4.18,"y":0.154},{"m":"PP","x":4.18,"y":0.148},
{"m":"DM","x":4.5,"y":0.142},{"m":"DM","x":4.53,"y":0.126},{"m":"DM","x":4.8,"y":0.113},{"m":"DM","x":5.03,"y":0.093},{"m":"DM","x":5.22,"y":0.073},{"m":"DM","x":5.7,"y":0.049}
],
"pts6": [
{"m":"HY","x":0.1,"y":0.568},{"m":"HY","x":0.5,"y":0.568},{"m":"HY","x":0.75,"y":0.567},{"m":"HY","x":0.95,"y":0.566},{"m":"HY","x":1.05,"y":0.565},{"m":"HY","x":1.15,"y":0.564},{"m":"HY","x":1.25,"y":0.562},{"m":"HY","x":1.35,"y":0.56},
{"m":"HY","x":0.1,"y":0.553},{"m":"HY","x":0.3,"y":0.553},{"m":"HY","x":0.5,"y":0.553},{"m":"HY","x":0.6,"y":0.552},{"m":"HY","x":0.7,"y":0.552},{"m":"HY","x":0.8,"y":0.552},{"m":"HY","x":0.9,"y":0.551},{"m":"HY","x":1.0,"y":0.551},{"m":"HY","x":1.1,"y":0.55},{"m":"HY","x":1.2,"y":0.549},{"m":"HY","x":1.3,"y":0.547},
{"m":"HY","x":1.0,"y":0.558},{"m":"HY","x":1.1,"y":0.557},{"m":"HY","x":1.2,"y":0.556},{"m":"HY","x":1.3,"y":0.553},{"m":"HY","x":1.4,"y":0.548},
{"m":"HY","x":1.36,"y":0.549},{"m":"HY","x":1.42,"y":0.535},{"m":"HY","x":1.47,"y":0.52},{"m":"HY","x":1.52,"y":0.505},{"m":"HY","x":1.56,"y":0.49},{"m":"HY","x":1.6,"y":0.472},{"m":"HY","x":1.63,"y":0.455},{"m":"HY","x":1.66,"y":0.44},{"m":"HY","x":1.69,"y":0.42},{"m":"HY","x":1.72,"y":0.4},{"m":"HY","x":1.75,"y":0.38},{"m":"HY","x":1.79,"y":0.36},{"m":"HY","x":1.84,"y":0.34},{"m":"HY","x":1.89,"y":0.322},{"m":"HY","x":1.95,"y":0.308},{"m":"HY","x":2.0,"y":0.299},{"m":"HY","x":2.08,"y":0.29},{"m":"HY","x":2.16,"y":0.282},{"m":"HY","x":2.24,"y":0.274},{"m":"HY","x":2.32,"y":0.266},{"m":"HY","x":2.4,"y":0.257},{"m":"HY","x":2.47,"y":0.25},{"m":"HY","x":2.53,"y":0.242},{"m":"HY","x":2.58,"y":0.234},
{"m":"HY","x":1.45,"y":0.54},{"m":"HY","x":1.5,"y":0.525},{"m":"HY","x":1.55,"y":0.51},{"m":"HY","x":1.6,"y":0.49},{"m":"HY","x":1.64,"y":0.47},{"m":"HY","x":1.67,"y":0.45},{"m":"HY","x":1.7,"y":0.43},{"m":"HY","x":1.73,"y":0.41},{"m":"HY","x":1.76,"y":0.39},{"m":"HY","x":1.8,"y":0.37},{"m":"HY","x":1.84,"y":0.35},{"m":"HY","x":1.9,"y":0.33},{"m":"HY","x":1.96,"y":0.315},{"m":"HY","x":2.04,"y":0.302},{"m":"HY","x":2.12,"y":0.292},{"m":"HY","x":2.2,"y":0.283},{"m":"HY","x":2.28,"y":0.275},{"m":"HY","x":2.36,"y":0.266},{"m":"HY","x":2.44,"y":0.258},{"m":"HY","x":2.52,"y":0.25},
{"m":"HY","x":1.67,"y":0.525},{"m":"HY","x":1.72,"y":0.495},{"m":"HY","x":1.75,"y":0.475},{"m":"HY","x":1.78,"y":0.455},{"m":"HY","x":1.82,"y":0.435},{"m":"HY","x":1.85,"y":0.415},{"m":"HY","x":1.88,"y":0.395},{"m":"HY","x":1.92,"y":0.375},{"m":"HY","x":1.95,"y":0.358},{"m":"HY","x":1.99,"y":0.345},{"m":"HY","x":2.03,"y":0.332},{"m":"HY","x":2.07,"y":0.32},{"m":"HY","x":2.12,"y":0.307},{"m":"HY","x":2.2,"y":0.293},{"m":"HY","x":2.28,"y":0.282},
{"m":"PP","x":2.0,"y":0.29},{"m":"PP","x":2.5,"y":0.208},{"m":"PP","x":2.69,"y":0.228},{"m":"PP","x":2.69,"y":0.209},{"m":"PP","x":3.0,"y":0.187},{"m":"PP","x":3.0,"y":0.169},{"m":"PP","x":3.0,"y":0.163},{"m":"PP","x":3.48,"y":0.157},{"m":"PP","x":3.48,"y":0.152},{"m":"PP","x":3.7,"y":0.141},{"m":"PP","x":3.7,"y":0.129},{"m":"PP","x":3.9,"y":0.121},{"m":"PP","x":3.9,"y":0.115},{"m":"PP","x":4.0,"y":0.118},{"m":"PP","x":4.0,"y":0.108},{"m":"PP","x":4.18,"y":0.113},{"m":"PP","x":4.18,"y":0.108},
{"m":"DM","x":4.0,"y":0.129},{"m":"DM","x":4.47,"y":0.123},{"m":"DM","x":4.69,"y":0.098},{"m":"DM","x":4.69,"y":0.069},{"m":"DM","x":4.8,"y":0.077},{"m":"DM","x":5.04,"y":0.059},{"m":"DM","x":5.25,"y":0.032},{"m":"DM","x":5.3,"y":0.042},{"m":"DM","x":5.6,"y":0.04}
]
},
"columns": 2,
"bounds": "flush",
"center": true,
"spacing": {"row": 54, "column": 62},
"concat": [
{
"width": 380, "height": 300,
"layer": [
{"data":{"name":"pts1"},"transform":[{"filter":"datum.m=='HY'"}],"mark":{"type":"point","stroke":"black","strokeWidth":1,"opacity":1,"size":100},
 "encoding":{"x":{"field":"x","type":"quantitative","scale":{"domain":[0,6],"nice":false},"axis":{"values":[0,1,2,3,4,5,6],"format":"d","title":null,"labelOverlap":false}},"y":{"field":"y","type":"quantitative","scale":{"domain":[0,0.7],"nice":false},"axis":{"values":[0,0.1,0.2,0.3,0.4,0.5,0.6,0.7],"format":".1f","title":null,"labelOverlap":false}},
 "shape":{"field":"m","type":"nominal","scale":{"domain":["PP","DM","HY"],"range":["circle","circle","triangle-down"]},"legend":null},"fill":{"field":"m","type":"nominal","scale":{"domain":["PP","DM","HY"],"range":["black","white","black"]},"legend":null}}},
{"data":{"name":"pts1"},"transform":[{"filter":"datum.m!='HY'"}],"mark":{"type":"point","stroke":"black","strokeWidth":1,"opacity":1,"size":55},
 "encoding":{"x":{"field":"x","type":"quantitative","scale":{"domain":[0,6],"nice":false}},"y":{"field":"y","type":"quantitative","scale":{"domain":[0,0.7],"nice":false}},"shape":{"field":"m","type":"nominal"},"fill":{"field":"m","type":"nominal"}}},
{"data":{"name":"fit1"},"transform":[{"fold":["HDP","HDPPP","HPP","DPPP"],"as":["m","y"]}],"mark":{"type":"line","interpolate":"monotone","strokeWidth":1},
 "encoding":{"x":{"field":"x","type":"quantitative","scale":{"domain":[0,6],"nice":false}},"y":{"field":"y","type":"quantitative","scale":{"domain":[0,0.7],"nice":false}},
 "stroke":{"field":"m","type":"nominal","scale":{"domain":["HDP","HDPPP","HPP","DPPP"],"range":["black","#cc2222","#333333","black"]},"legend":null},"strokeDash":{"field":"m","type":"nominal","scale":{"domain":["HDP","HDPPP","HPP","DPPP"],"range":[[1,0],[1.5,3],[12,5],[14,3,1.5,3,1.5,3]]},"legend":null}}},
{"data":{"name":"fit1"},"mark":{"type":"line","interpolate":"monotone","stroke":"#cc2222","strokeWidth":1.3,"strokeDash":[1.5,3,1.5,20],"strokeDashOffset":9},
 "encoding":{"x":{"field":"x","type":"quantitative","scale":{"domain":[0,6],"nice":false}},"y":{"field":"DPPP","type":"quantitative","scale":{"domain":[0,0.7],"nice":false}}}},
{"data":{"name":"notes"},"transform":[{"filter":"datum.p==1"}],"mark":{"type":"text","align":"left","baseline":"alphabetic","fontSize":24,"color":"black"},
 "encoding":{"x":{"datum":0.25,"type":"quantitative","scale":{"domain":[0,6],"nice":false}},"y":{"datum":0.04,"type":"quantitative","scale":{"domain":[0,0.7],"nice":false}},"text":{"field":"t","type":"nominal"}}}
]
},
{
"width": 380, "height": 297,
"layer": [
{"data":{"name":"pts2"},"transform":[{"filter":"datum.m=='HY'"}],"mark":{"type":"point","stroke":"black","strokeWidth":1,"opacity":1,"size":100},
 "encoding":{"x":{"field":"x","type":"quantitative","scale":{"domain":[0,6],"nice":false},"axis":{"values":[0,1,2,3,4,5,6],"format":"d","title":null,"labelOverlap":false}},"y":{"field":"y","type":"quantitative","scale":{"domain":[0,0.7],"nice":false},"axis":{"values":[0,0.1,0.2,0.3,0.4,0.5,0.6,0.7],"format":".1f","title":null,"labelOverlap":false}},
 "shape":{"field":"m","type":"nominal","scale":{"domain":["PP","DM","HY"],"range":["circle","circle","triangle-down"]},"legend":{"orient":"top-right","title":null,"offset":5,"symbolSize":55,"labelOffset":34,"rowPadding":3,"symbolOpacity":1,"labelExpr":"datum.label=='PP'?'Pressure Plates':datum.label=='DM'?'Dewpoint Meter':'Hyprop'","encode":{"symbols":{"update":{"stroke":{"value":"black"},"strokeWidth":{"value":1}}}}}},
 "fill":{"field":"m","type":"nominal","scale":{"domain":["PP","DM","HY"],"range":["black","white","black"]},"legend":{"orient":"top-right","title":null,"offset":5,"symbolSize":55,"labelOffset":34,"rowPadding":3,"symbolOpacity":1,"labelExpr":"datum.label=='PP'?'Pressure Plates':datum.label=='DM'?'Dewpoint Meter':'Hyprop'","encode":{"symbols":{"update":{"stroke":{"value":"black"},"strokeWidth":{"value":1}}}}}}}},
{"data":{"name":"pts2"},"transform":[{"filter":"datum.m!='HY'"}],"mark":{"type":"point","stroke":"black","strokeWidth":1,"opacity":1,"size":55},
 "encoding":{"x":{"field":"x","type":"quantitative","scale":{"domain":[0,6],"nice":false}},"y":{"field":"y","type":"quantitative","scale":{"domain":[0,0.7],"nice":false}},"shape":{"field":"m","type":"nominal"},"fill":{"field":"m","type":"nominal"}}},
{"data":{"name":"fit2"},"transform":[{"fold":["HDP","HDPPP","HPP","DPPP"],"as":["m","y"]}],"mark":{"type":"line","interpolate":"monotone","strokeWidth":1},
 "encoding":{"x":{"field":"x","type":"quantitative","scale":{"domain":[0,6],"nice":false}},"y":{"field":"y","type":"quantitative","scale":{"domain":[0,0.7],"nice":false}},
 "stroke":{"field":"m","type":"nominal","scale":{"domain":["HDP","HDPPP","HPP","DPPP"],"range":["black","#cc2222","#333333","black"]},"legend":null},"strokeDash":{"field":"m","type":"nominal","scale":{"domain":["HDP","HDPPP","HPP","DPPP"],"range":[[1,0],[1.5,3],[12,5],[14,3,1.5,3,1.5,3]]},"legend":null}}},
{"data":{"name":"fit2"},"mark":{"type":"line","interpolate":"monotone","stroke":"#cc2222","strokeWidth":1.3,"strokeDash":[1.5,3,1.5,20],"strokeDashOffset":9},
 "encoding":{"x":{"field":"x","type":"quantitative","scale":{"domain":[0,6],"nice":false}},"y":{"field":"DPPP","type":"quantitative","scale":{"domain":[0,0.7],"nice":false}}}},
{"data":{"name":"notes"},"transform":[{"filter":"datum.p==2"}],"mark":{"type":"text","align":"left","baseline":"alphabetic","fontSize":24,"color":"black"},
 "encoding":{"x":{"datum":0.11,"type":"quantitative","scale":{"domain":[0,6],"nice":false}},"y":{"datum":0.03,"type":"quantitative","scale":{"domain":[0,0.7],"nice":false}},"text":{"field":"t","type":"nominal"}}}
]
},
{
"width": 380, "height": 282,
"layer": [
{"data":{"name":"pts3"},"transform":[{"filter":"datum.m=='HY'"}],"mark":{"type":"point","stroke":"black","strokeWidth":1,"opacity":1,"size":100},
 "encoding":{"x":{"field":"x","type":"quantitative","scale":{"domain":[0,6],"nice":false},"axis":{"values":[0,1,2,3,4,5,6],"format":"d","title":null,"labelOverlap":false}},"y":{"field":"y","type":"quantitative","scale":{"domain":[0,0.7],"nice":false},"axis":{"values":[0,0.1,0.2,0.3,0.4,0.5,0.6,0.7],"format":".1f","title":"water content (cm³cm⁻³)","titlePadding":11,"labelOverlap":false}},
 "shape":{"field":"m","type":"nominal","scale":{"domain":["PP","DM","HY"],"range":["circle","circle","triangle-down"]},"legend":null},"fill":{"field":"m","type":"nominal","scale":{"domain":["PP","DM","HY"],"range":["black","white","black"]},"legend":null}}},
{"data":{"name":"pts3"},"transform":[{"filter":"datum.m!='HY'"}],"mark":{"type":"point","stroke":"black","strokeWidth":1,"opacity":1,"size":55},
 "encoding":{"x":{"field":"x","type":"quantitative","scale":{"domain":[0,6],"nice":false}},"y":{"field":"y","type":"quantitative","scale":{"domain":[0,0.7],"nice":false}},"shape":{"field":"m","type":"nominal"},"fill":{"field":"m","type":"nominal"}}},
{"data":{"name":"fit3"},"transform":[{"fold":["HDP","HDPPP","HPP","DPPP"],"as":["m","y"]}],"mark":{"type":"line","interpolate":"monotone","strokeWidth":1},
 "encoding":{"x":{"field":"x","type":"quantitative","scale":{"domain":[0,6],"nice":false}},"y":{"field":"y","type":"quantitative","scale":{"domain":[0,0.7],"nice":false}},
 "stroke":{"field":"m","type":"nominal","scale":{"domain":["HDP","HDPPP","HPP","DPPP"],"range":["black","#cc2222","#333333","black"]},"legend":null},"strokeDash":{"field":"m","type":"nominal","scale":{"domain":["HDP","HDPPP","HPP","DPPP"],"range":[[1,0],[1.5,3],[12,5],[14,3,1.5,3,1.5,3]]},"legend":null}}},
{"data":{"name":"fit3"},"mark":{"type":"line","interpolate":"monotone","stroke":"#cc2222","strokeWidth":1.3,"strokeDash":[1.5,3,1.5,20],"strokeDashOffset":9},
 "encoding":{"x":{"field":"x","type":"quantitative","scale":{"domain":[0,6],"nice":false}},"y":{"field":"DPPP","type":"quantitative","scale":{"domain":[0,0.7],"nice":false}}}},
{"data":{"name":"notes"},"transform":[{"filter":"datum.p==3"}],"mark":{"type":"text","align":"left","baseline":"alphabetic","fontSize":24,"color":"black"},
 "encoding":{"x":{"datum":0.16,"type":"quantitative","scale":{"domain":[0,6],"nice":false}},"y":{"datum":0.045,"type":"quantitative","scale":{"domain":[0,0.7],"nice":false}},"text":{"field":"t","type":"nominal"}}}
]
},
{
"width": 380, "height": 283,
"layer": [
{"data":{"name":"pts4"},"transform":[{"filter":"datum.m=='HY'"}],"mark":{"type":"point","stroke":"black","strokeWidth":1,"opacity":1,"size":80},
 "encoding":{"x":{"field":"x","type":"quantitative","scale":{"domain":[0,6],"nice":false},"axis":{"values":[0,1,2,3,4,5,6],"format":"d","title":null,"labelOverlap":false}},"y":{"field":"y","type":"quantitative","scale":{"domain":[0,0.7],"nice":false},"axis":{"values":[0,0.1,0.2,0.3,0.4,0.5,0.6,0.7],"format":".1f","title":null,"labelOverlap":false}},
 "shape":{"field":"m","type":"nominal","scale":{"domain":["PP","DM","HY"],"range":["circle","circle","triangle-down"]},"legend":null},"fill":{"field":"m","type":"nominal","scale":{"domain":["PP","DM","HY"],"range":["black","white","black"]},"legend":null}}},
{"data":{"name":"pts4"},"transform":[{"filter":"datum.m!='HY'"}],"mark":{"type":"point","stroke":"black","strokeWidth":1,"opacity":1,"size":40},
 "encoding":{"x":{"field":"x","type":"quantitative","scale":{"domain":[0,6],"nice":false}},"y":{"field":"y","type":"quantitative","scale":{"domain":[0,0.7],"nice":false}},"shape":{"field":"m","type":"nominal"},"fill":{"field":"m","type":"nominal"}}},
{"data":{"name":"fit4"},"transform":[{"fold":["HDP","HDPPP","HPP","DPPP"],"as":["m","y"]}],"mark":{"type":"line","interpolate":"monotone","strokeWidth":1},
 "encoding":{"x":{"field":"x","type":"quantitative","scale":{"domain":[0,6],"nice":false}},"y":{"field":"y","type":"quantitative","scale":{"domain":[0,0.7],"nice":false}},
 "stroke":{"field":"m","type":"nominal","scale":{"domain":["HDP","HDPPP","HPP","DPPP"],"range":["black","#cc2222","#333333","black"]},"legend":{"orient":"none","legendX":200,"legendY":4,"title":null,"symbolType":"stroke","symbolSize":3025,"symbolStrokeWidth":1.2,"labelOffset":20,"rowPadding":2,"clipHeight":30}},
 "strokeDash":{"field":"m","type":"nominal","scale":{"domain":["HDP","HDPPP","HPP","DPPP"],"range":[[1,0],[1.5,3],[12,5],[14,3,1.5,3,1.5,3]]},"legend":{"orient":"none","legendX":200,"legendY":4,"title":null,"symbolType":"stroke","symbolSize":3025,"symbolStrokeWidth":1.2,"labelOffset":20,"rowPadding":2,"clipHeight":30}}}},
{"data":{"name":"fit4"},"mark":{"type":"line","interpolate":"monotone","stroke":"#cc2222","strokeWidth":1.3,"strokeDash":[1.5,3,1.5,20],"strokeDashOffset":9},
 "encoding":{"x":{"field":"x","type":"quantitative","scale":{"domain":[0,6],"nice":false}},"y":{"field":"DPPP","type":"quantitative","scale":{"domain":[0,0.7],"nice":false}}}},
{"data":{"name":"notes"},"transform":[{"filter":"datum.p==4"}],"mark":{"type":"text","align":"left","baseline":"alphabetic","fontSize":24,"color":"black","lineBreak":"|","lineHeight":38},
 "encoding":{"x":{"datum":0.1,"type":"quantitative","scale":{"domain":[0,6],"nice":false}},"y":{"datum":0.105,"type":"quantitative","scale":{"domain":[0,0.7],"nice":false}},"text":{"field":"t","type":"nominal"}}}
]
},
{
"width": 380, "height": 296,
"layer": [
{"data":{"name":"pts5"},"transform":[{"filter":"datum.m=='HY'"}],"mark":{"type":"point","stroke":"black","strokeWidth":1,"opacity":1,"size":80},
 "encoding":{"x":{"field":"x","type":"quantitative","scale":{"domain":[0,6],"nice":false},"axis":{"values":[0,1,2,3,4,5,6],"format":"d","title":null,"labelOverlap":false}},"y":{"field":"y","type":"quantitative","scale":{"domain":[0,0.7],"nice":false},"axis":{"values":[0,0.1,0.2,0.3,0.4,0.5,0.6,0.7],"format":".1f","title":null,"labelOverlap":false}},
 "shape":{"field":"m","type":"nominal","scale":{"domain":["PP","DM","HY"],"range":["circle","circle","triangle-down"]},"legend":null},"fill":{"field":"m","type":"nominal","scale":{"domain":["PP","DM","HY"],"range":["black","white","black"]},"legend":null}}},
{"data":{"name":"pts5"},"transform":[{"filter":"datum.m!='HY'"}],"mark":{"type":"point","stroke":"black","strokeWidth":1,"opacity":1,"size":40},
 "encoding":{"x":{"field":"x","type":"quantitative","scale":{"domain":[0,6],"nice":false}},"y":{"field":"y","type":"quantitative","scale":{"domain":[0,0.7],"nice":false}},"shape":{"field":"m","type":"nominal"},"fill":{"field":"m","type":"nominal"}}},
{"data":{"name":"fit5"},"transform":[{"fold":["HDP","HDPPP","HPP","DPPP"],"as":["m","y"]}],"mark":{"type":"line","interpolate":"monotone","strokeWidth":1},
 "encoding":{"x":{"field":"x","type":"quantitative","scale":{"domain":[0,6],"nice":false}},"y":{"field":"y","type":"quantitative","scale":{"domain":[0,0.7],"nice":false}},
 "stroke":{"field":"m","type":"nominal","scale":{"domain":["HDP","HDPPP","HPP","DPPP"],"range":["black","#cc2222","#333333","black"]},"legend":null},"strokeDash":{"field":"m","type":"nominal","scale":{"domain":["HDP","HDPPP","HPP","DPPP"],"range":[[1,0],[1.5,3],[12,5],[14,3,1.5,3,1.5,3]]},"legend":null}}},
{"data":{"name":"fit5"},"mark":{"type":"line","interpolate":"monotone","stroke":"#cc2222","strokeWidth":1.3,"strokeDash":[1.5,3,1.5,20],"strokeDashOffset":9},
 "encoding":{"x":{"field":"x","type":"quantitative","scale":{"domain":[0,6],"nice":false}},"y":{"field":"DPPP","type":"quantitative","scale":{"domain":[0,0.7],"nice":false}}}},
{"data":{"name":"notes"},"transform":[{"filter":"datum.p==5"}],"mark":{"type":"text","align":"left","baseline":"alphabetic","fontSize":24,"color":"black","lineBreak":"|","lineHeight":39},
 "encoding":{"x":{"datum":0.11,"type":"quantitative","scale":{"domain":[0,6],"nice":false}},"y":{"datum":0.105,"type":"quantitative","scale":{"domain":[0,0.7],"nice":false}},"text":{"field":"t","type":"nominal"}}}
]
},
{
"width": 380, "height": 289,
"layer": [
{"data":{"name":"pts6"},"transform":[{"filter":"datum.m=='HY'"}],"mark":{"type":"point","stroke":"black","strokeWidth":1,"opacity":1,"size":80},
 "encoding":{"x":{"field":"x","type":"quantitative","scale":{"domain":[0,6],"nice":false},"axis":{"values":[0,1,2,3,4,5,6],"format":"d","title":null,"labelOverlap":false}},"y":{"field":"y","type":"quantitative","scale":{"domain":[0,0.7],"nice":false},"axis":{"values":[0,0.1,0.2,0.3,0.4,0.5,0.6,0.7],"format":".1f","title":null,"labelOverlap":false}},
 "shape":{"field":"m","type":"nominal","scale":{"domain":["PP","DM","HY"],"range":["circle","circle","triangle-down"]},"legend":null},"fill":{"field":"m","type":"nominal","scale":{"domain":["PP","DM","HY"],"range":["black","white","black"]},"legend":null}}},
{"data":{"name":"pts6"},"transform":[{"filter":"datum.m!='HY'"}],"mark":{"type":"point","stroke":"black","strokeWidth":1,"opacity":1,"size":40},
 "encoding":{"x":{"field":"x","type":"quantitative","scale":{"domain":[0,6],"nice":false}},"y":{"field":"y","type":"quantitative","scale":{"domain":[0,0.7],"nice":false}},"shape":{"field":"m","type":"nominal"},"fill":{"field":"m","type":"nominal"}}},
{"data":{"name":"fit6"},"transform":[{"fold":["HDP","HDPPP","HPP","DPPP"],"as":["m","y"]}],"mark":{"type":"line","interpolate":"monotone","strokeWidth":1},
 "encoding":{"x":{"field":"x","type":"quantitative","scale":{"domain":[0,6],"nice":false}},"y":{"field":"y","type":"quantitative","scale":{"domain":[0,0.7],"nice":false}},
 "stroke":{"field":"m","type":"nominal","scale":{"domain":["HDP","HDPPP","HPP","DPPP"],"range":["black","#cc2222","#333333","black"]},"legend":null},"strokeDash":{"field":"m","type":"nominal","scale":{"domain":["HDP","HDPPP","HPP","DPPP"],"range":[[1,0],[1.5,3],[12,5],[14,3,1.5,3,1.5,3]]},"legend":null}}},
{"data":{"name":"fit6"},"mark":{"type":"line","interpolate":"monotone","stroke":"#cc2222","strokeWidth":1.3,"strokeDash":[1.5,3,1.5,20],"strokeDashOffset":9},
 "encoding":{"x":{"field":"x","type":"quantitative","scale":{"domain":[0,6],"nice":false}},"y":{"field":"DPPP","type":"quantitative","scale":{"domain":[0,0.7],"nice":false}}}},
{"data":{"name":"notes"},"transform":[{"filter":"datum.p==6"}],"mark":{"type":"text","align":"left","baseline":"alphabetic","fontSize":24,"color":"black","lineBreak":"|","lineHeight":39},
 "encoding":{"x":{"datum":1.88,"type":"quantitative","scale":{"domain":[0,6],"nice":false}},"y":{"datum":0.625,"type":"quantitative","scale":{"domain":[0,0.7],"nice":false}},"text":{"field":"t","type":"nominal"}}}
]
}
],
"resolve": {
"scale": {"shape":"independent","fill":"independent","stroke":"independent","strokeDash":"independent"},
"legend": {"shape":"independent","fill":"independent","stroke":"independent","strokeDash":"independent"}
},
"config": {
"font": "Liberation Sans",
"view": {"stroke": "#777777", "strokeWidth": 1},
"axis": {"labelFontSize": 24, "labelColor": "black", "labelFont": "Liberation Sans", "domainColor": "#777777", "tickColor": "#777777", "tickSize": 5, "grid": false, "labelFlush": false, "labelOverlap": false, "titleFontSize": 24, "titleFontWeight": "normal", "titleColor": "black", "titleFont": "Liberation Sans"},
"axisX": {"labelPadding": 13, "labelOverlap": false},
"axisY": {"labelPadding": 8, "labelOverlap": false},
"axisQuantitative": {"labelOverlap": false},
"legend": {"labelFontSize": 24, "labelColor": "black", "labelFont": "Liberation Sans", "padding": 0, "labelLimit": 400},
"text": {"font": "Liberation Sans"},
"title": {"font": "Liberation Sans"}
}
}
